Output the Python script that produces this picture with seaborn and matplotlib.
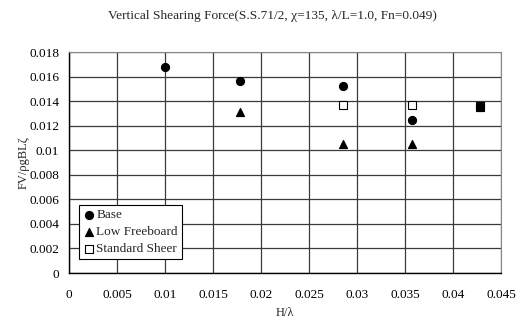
import pandas as pd
import seaborn as sns
import matplotlib.pyplot as plt

# values
base_x = [0.0100, 0.0178, 0.0285, 0.0357, 0.0428]
base_y = [0.0168, 0.0156, 0.0152, 0.0125, 0.0136]
low_x = [0.0178, 0.0285, 0.0357, 0.0428]
low_y = [0.0131, 0.0105, 0.0105, 0.0135]
sheer_x = [0.0285, 0.0357, 0.0428]
sheer_y = [0.0137, 0.0137, 0.0136]
x_ticks = [0, 0.005, 0.01, 0.015, 0.02, 0.025, 0.03, 0.035, 0.04, 0.045]
y_ticks = [0, 0.002, 0.004, 0.006, 0.008, 0.01, 0.012, 0.014, 0.016, 0.018]

sns.set_style('white')
plt.rcParams['font.family'] = ['Liberation Serif', 'DejaVu Serif']
plt.rcParams['font.size'] = 9.5

fig = plt.figure(figsize=(5.18, 3.2), dpi=100)
ax = fig.add_axes([69/518, 1 - 273/320, (501 - 69)/518, (273 - 52)/320])

# sheer drawn first so the overlapping circle/triangle fill it in like the original
series = [
    ('Standard Sheer', sheer_x, sheer_y, 's', 'white', 26, 2),
    ('Base', base_x, base_y, 'o', 'black', 34, 3),
    ('Low Freeboard', low_x, low_y, '^', 'black', 34, 4),
]
for name, xs, ys, mk, face, sz, z in series:
    df = pd.DataFrame({'x': xs, 'y': ys})
    sns.scatterplot(data=df, x='x', y='y', marker=mk, s=sz, color=face,
                    edgecolor='black', linewidth=0.8, ax=ax, label=name, zorder=z)

ax.set_xlim(0, 0.045)
ax.set_ylim(0, 0.018)
ax.set_xticks(x_ticks)
ax.set_xticklabels([f'{v:g}' for v in x_ticks])
ax.set_yticks(y_ticks)
ax.set_yticklabels([f'{v:g}' for v in y_ticks])
ax.grid(True, color='#3a3a3a', linewidth=0.9)
ax.set_axisbelow(True)
for side in ['top', 'right']:
    ax.spines[side].set_color('#888888')
for side in ['left', 'bottom']:
    ax.spines[side].set_color('black')
    ax.spines[side].set_linewidth(1.0)
ax.tick_params(axis='x', length=0, colors='black', pad=11.5)
ax.tick_params(axis='y', length=0, colors='black', pad=7)

ax.set_xlabel('H/λ', labelpad=4, fontsize=9)
ax.set_ylabel('FV/ρgBLζ', labelpad=0, fontsize=9)
ax.set_title('Vertical Shearing Force(S.S.71/2, χ=135, λ/L=1.0, Fn=0.049)',
             x=0.472, pad=24, fontsize=9.6)

h, l = ax.get_legend_handles_labels()
order = [l.index('Base'), l.index('Low Freeboard'), l.index('Standard Sheer')]
leg = ax.legend([h[i] for i in order], [l[i] for i in order],
                loc='lower left', bbox_to_anchor=(0.022, 0.063), frameon=True, fancybox=False,
                edgecolor='black', framealpha=1, handletextpad=0.05, borderpad=0.3,
                labelspacing=0.35, handlelength=1.0, borderaxespad=0)
leg.get_frame().set_linewidth(0.8)

fig.savefig('out.png', dpi=100)
